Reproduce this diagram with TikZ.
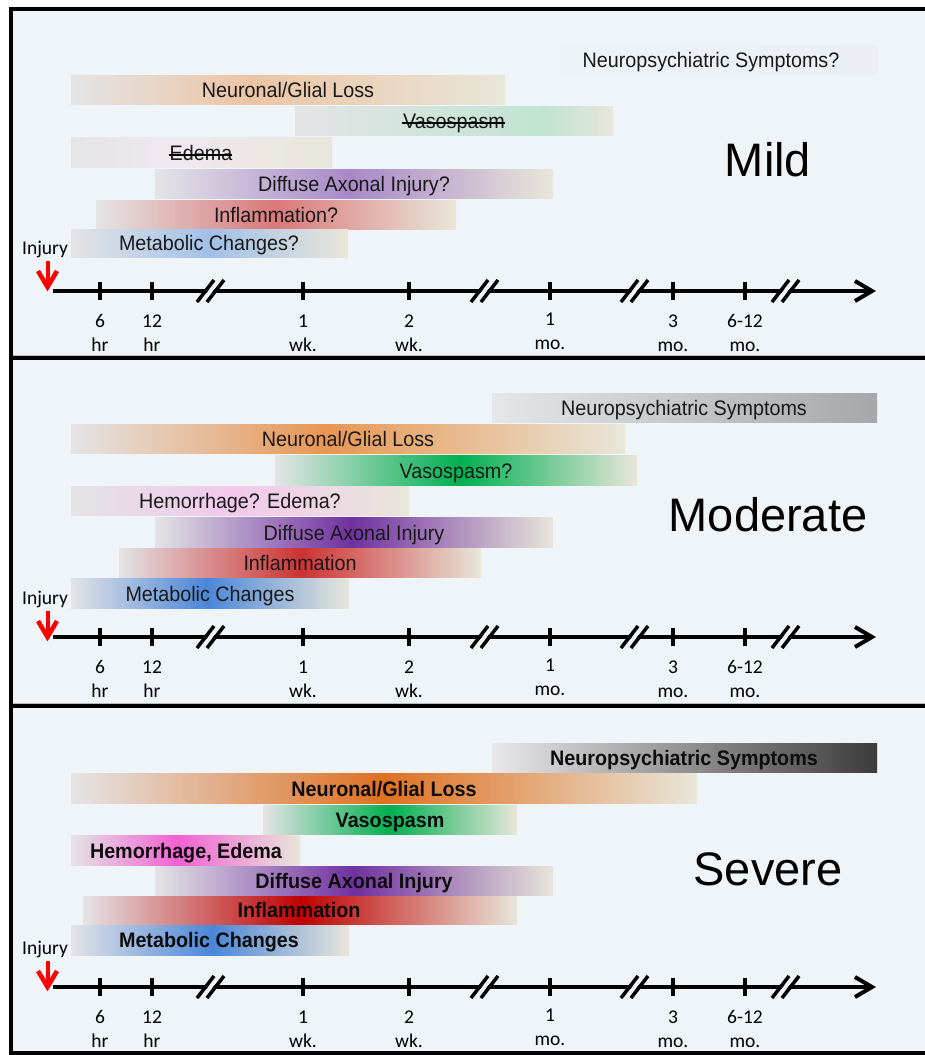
\documentclass[tikz,border=0pt]{standalone}
\usepackage{fontspec}
\setmainfont{Liberation Sans}
\newfontfamily\barfont[FakeStretch=0.94]{Liberation Sans}
\newfontfamily\calfont{Carlito}
\definecolor{bg}{RGB}{239,244,249}
\definecolor{gs}{RGB}{228,228,230}
\definecolor{ge}{RGB}{232,230,218}
% mild
\definecolor{mNeu}{RGB}{236,196,164}
\definecolor{mVas}{RGB}{192,228,210}
\definecolor{mEde}{RGB}{240,232,240}
\definecolor{mDai}{RGB}{168,136,200}
\definecolor{mInf}{RGB}{218,120,120}
\definecolor{mMet}{RGB}{160,192,232}
% moderate
\definecolor{oNeu}{RGB}{232,150,82}
\definecolor{oVas}{RGB}{0,176,80}
\definecolor{oHem}{RGB}{242,200,236}
\definecolor{oDai}{RGB}{112,48,160}
\definecolor{oInf}{RGB}{204,50,50}
\definecolor{oMet}{RGB}{74,134,216}
% severe
\definecolor{sNeu}{RGB}{224,112,32}
\definecolor{sVas}{RGB}{0,176,80}
\definecolor{sHem}{RGB}{242,96,210}
\definecolor{sDai}{RGB}{112,48,160}
\definecolor{sInf}{RGB}{192,0,0}
\definecolor{sMet}{RGB}{74,134,216}
\tikzset{
  bt/.style={anchor=base, inner sep=0pt, font=\barfont\fontsize{21}{24}\selectfont, text=black!90},
  btb/.style={anchor=base, inner sep=0pt, font=\barfont\bfseries\fontsize{21}{24}\selectfont, text=black!95},
  big/.style={inner sep=0pt, font=\fontsize{47}{52}\selectfont},
  axlbl/.style={anchor=base, inner sep=0pt, font=\calfont\fontsize{19.5}{21}\selectfont},
  injlbl/.style={inner sep=0pt, font=\calfont\fontsize{19.5}{21}\selectfont},
  axisline/.style={line width=4pt},
  tickline/.style={line width=3.5pt},
  brk/.style={line width=3.5pt},
  brkgap/.style={bg, line width=4pt},
  frameline/.style={line width=4pt},
  redarr/.style={red, line width=4pt},
  strike/.style={line width=1.2pt},
}
\newcommand\gb[6]{%
  \shade[left color=gs, right color=#6] (#1,#4) rectangle (#2+0.6,#5);
  \shade[left color=#6, right color=ge] (#2,#4) rectangle (#3,#5);}
\newcommand\timeline[3]{%
\begin{scope}[shift={(0,#1)}]
  \coordinate (as#2) at (53,291);
  \coordinate (ae#2) at (872,291);
  \draw[axisline] (as#2) -- (ae#2);
  \draw[axisline, line join=miter] (855,281) -- (ae#2) -- (855,301);
  \foreach \x in {100,152,303,409,550,673,745} \draw[tickline] (\x,282) -- (\x,300);
  \foreach \c in {210,484,634,785} {
    \draw[brkgap] (\c-8,303) -- (\c+9,279);
    \draw[brk] (\c-13,302) -- (\c+4,280);
    \draw[brk] (\c-3,302) -- (\c+14,280);
  }
  \foreach \x/\lbA/\lbB/\dy/\k in {100/6/hr/0/a,152/12/hr/0/b,303/1/wk./0/c,409/2/wk./0/d,550/1/mo./-2/e,673/3/mo./0/f,745/6-12/mo./0/g} {
    \node[axlbl] (n\k#2) at (\x,327+\dy) {\lbA};
    \node[axlbl] (u\k#2) at (\x,351+\dy) {\lbB};
  }
  \node[injlbl] (inj#2) at (45,249+#3) {Injury};
  \coordinate (rt#2) at (47.5,261+#3);
  \coordinate (rb#2) at (47.5,287+#3);
  \draw[redarr] (rt#2) -- (rb#2);
  \draw[redarr, line width=4.5pt, line join=miter] (38,271+#3) -- (rb#2) -- (57,271+#3);
\end{scope}}
\begin{document}
\begin{tikzpicture}[x=1pt,y=-1pt]
\useasboundingbox (0,0) rectangle (925,1055);
\fill[white] (0,0) rectangle (925,1055);
\fill[bg] (11,9) rectangle (925,1053);

% ---------------- Mild ----------------
\shade[left color={rgb,255:red,238;green,243;blue,247}, right color={rgb,255:red,235;green,239;blue,243}] (560,45) rectangle (878,74);
\node[bt] (mNps) at (711,67) {Neuropsychiatric Symptoms?};
\gb{71}{250}{505}{75}{104}{mNeu}
\node[bt] (mNeuT) at (288,97) {Neuronal/Glial Loss};
\gb{295}{545}{613}{106}{135}{mVas}
\node[bt] (mVasT) at (454,128) {Vasospasm};
\draw[strike] ([xshift=-1pt,yshift=5pt]mVasT.base west) -- ([yshift=5pt]mVasT.base east);
\gb{71}{170}{332}{137}{167}{mEde}
\node[bt] (mEdeT) at (201,160) {Edema};
\draw[strike] ([xshift=-1pt,yshift=5pt]mEdeT.base west) -- ([yshift=5pt]mEdeT.base east);
\gb{155}{350}{553}{169}{198}{mDai}
\node[bt] (mDaiT) at (354,191) {Diffuse Axonal Injury?};
\gb{96}{275}{456}{200}{229}{mInf}
\node[bt] (mInfT) at (276,222) {Inflammation?};
\gb{71}{210}{348}{229}{257}{mMet}
\node[bt] (mMetT) at (209,250) {Metabolic Changes?};
\node[big] (mild) at (768,160) {Mild};
\timeline{0}{a}{0}

% ---------------- Moderate ----------------
\shade[left color={rgb,255:red,228;green,230;blue,234}, right color={rgb,255:red,165;green,167;blue,171}] (492,393) rectangle (877,422);
\node[bt] (oNps) at (684,415) {Neuropsychiatric Symptoms};
\gb{71}{325}{625}{424}{453}{oNeu}
\node[bt] (oNeuT) at (348,446) {Neuronal/Glial Loss};
\gb{275}{460}{637}{455}{485}{oVas}
\node[bt] (oVasT) at (456,478) {Vasospasm?};
\gb{71}{230}{409}{486}{515}{oHem}
\node[bt] (oHemT) at (240,508) {Hemorrhage? Edema?};
\gb{155}{351}{553}{517}{547}{oDai}
\node[bt] (oDaiT) at (354,540) {Diffuse Axonal Injury};
\gb{119}{301}{481}{548}{577}{oInf}
\node[bt] (oInfT) at (300,570) {Inflammation};
\gb{71}{206}{349}{578}{608}{oMet}
\node[bt] (oMetT) at (210,601) {Metabolic Changes};
\node[big] (moderate) at (768,515) {Moderate};
\timeline{346}{b}{4}

% ---------------- Severe ----------------
\shade[left color={rgb,255:red,232;green,232;blue,234}, right color={rgb,255:red,60;green,60;blue,60}] (492,743) rectangle (877,772);
\node[btb] (sNps) at (684,765) {Neuropsychiatric Symptoms};
\gb{71}{383}{697}{773}{803}{sNeu}
\node[btb] (sNeuT) at (384,796) {Neuronal/Glial Loss};
\gb{263}{389}{517}{805}{834}{sVas}
\node[btb] (sVasT) at (390,827) {Vasospasm};
\gb{71}{177}{300}{835}{865}{sHem}
\node[btb] (sHemT) at (186,858) {Hemorrhage, Edema};
\gb{155}{354}{553}{866}{895}{sDai}
\node[btb] (sDaiT) at (354,888) {Diffuse Axonal Injury};
\gb{83}{301}{517}{896}{924}{sInf}
\node[btb] (sInfT) at (299,917) {Inflammation};
\gb{71}{212}{349}{925}{955}{sMet}
\node[btb] (sMetT) at (209,947) {Metabolic Changes};
\node[big] (severe) at (768,869) {Severe};
\timeline{696}{c}{4}

% ---------------- frame ----------------
\draw[gray!55, line width=1pt] (13,355.3) -- (925,355.3);
\draw[gray!55, line width=1pt] (13,703.3) -- (925,703.3);
\draw[frameline] (11.3,6.7) -- (11.3,1055);
\draw[frameline] (9.3,8.7) -- (925,8.7);
\draw[frameline] (11.3,358) -- (925,358);
\draw[frameline] (11.3,706) -- (925,706);
\draw[frameline] (9.3,1053.3) -- (925,1053.3);
\end{tikzpicture}
\end{document}
